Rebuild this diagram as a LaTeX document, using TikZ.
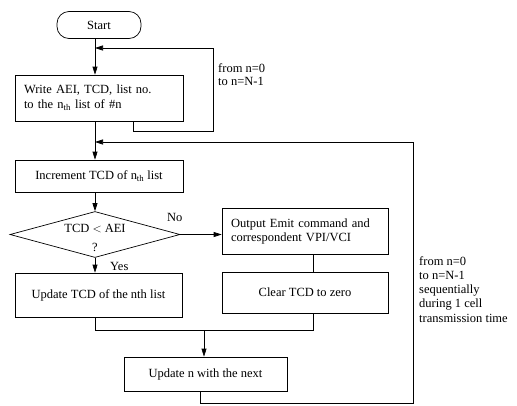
\documentclass[tikz,border=0pt]{standalone}
\usepackage{fontspec}
\setmainfont{Liberation Serif}
\usetikzlibrary{shapes.geometric,arrows.meta}
\begin{document}
\begin{tikzpicture}[x=1pt,y=-1pt,
  every node/.style={font=\fontsize{12.5}{15}\selectfont},
  box/.style={draw, line width=0.7pt, inner sep=0pt},
  line/.style={line width=0.7pt},
  arr/.style={line width=0.7pt, -{Triangle[length=8pt,width=5pt]}},
  lbl/.style={inner sep=0pt, anchor=west}]
\useasboundingbox (0,0) rectangle (517,405);
% axis coordinates
\coordinate (ax) at (95,0);
\coordinate (lx) at (133,0);
\coordinate (cx) at (313,0);
\coordinate (bx) at (200,0);
% nodes
\node[box, rounded corners=12pt, minimum width=84pt, minimum height=27pt] (start) at (99,25) {Start};
\node[box, minimum width=168pt, minimum height=46pt, text width=150pt, align=left] (write) at (99,98) {Write AEI, TCD, list no.\\ to the n\textsubscript{th} list of \#n};
\node[box, minimum width=168pt, minimum height=32pt] (inc) at (99,176) {Increment TCD of n\textsubscript{th} list};
\node[box, diamond, minimum width=170pt, minimum height=46pt] (dec) at (95,234.5) {};
\node[inner sep=0pt, align=center] (dect) at (95,238) {TCD $<$ AEI\\[4pt] ?};
\node[box, minimum width=167pt, minimum height=44pt] (upd) at (98.5,295) {Update TCD of the nth list};
\node[box, minimum width=166pt, minimum height=46pt, text width=148pt, align=left, font=\fontsize{12.5}{14}\selectfont] (out) at (305,231) {Output Emit command and\\ correspondent VPI/VCI};
\node[box, minimum width=166pt, minimum height=41pt] (clr) at (305,292.5) {Clear TCD to zero};
\node[box, minimum width=163pt, minimum height=34pt] (updn) at (205.5,374) {Update n with the next};
% labels
\node[lbl] (no) at (167,217) {No};
\node[lbl] (yes) at (110,266) {Yes};
\node[lbl, anchor=north west, align=left, font=\fontsize{12.5}{13.5}\selectfont] (lt) at (218,63) {from n=0\\ to n=N-1};
\node[lbl, anchor=north west, align=left, font=\fontsize{12.5}{14.3}\selectfont] (lr) at (419,256) {from n=0\\ to n=N-1\\ sequentially\\ during 1 cell\\ transmission time};
% coordinates for loops
\coordinate (lc1) at (213,131);
\coordinate (lc2) at (213,48);
\coordinate (jr) at (313,330);
\coordinate (j) at (204,330);
\coordinate (br) at (413,403);
\coordinate (tr) at (413,142);
% connectors
\draw[arr] (start.south -| ax) -- (write.north -| ax);
\draw[arr] (write.south -| lx) |- (lc1) -- (lc2) -- (lc2 -| ax);
\draw[arr] (write.south -| ax) -- (inc.north -| ax);
\draw[arr] (inc.south -| ax) -- (dec.north);
\draw[arr] (dec.east) -- (dec.east -| out.west);
\draw[arr] (dec.south) -- (upd.north -| dec.south);
\draw[line] (out.south -| cx) -- (clr.north -| cx);
\draw[line] (upd.south -| ax) |- (jr) -- (clr.south -| cx);
\draw[arr] (j) -- (updn.north -| j);
\draw[arr] (updn.south -| bx) |- (br) -- (tr) -- (tr -| ax);
\end{tikzpicture}
\end{document}
